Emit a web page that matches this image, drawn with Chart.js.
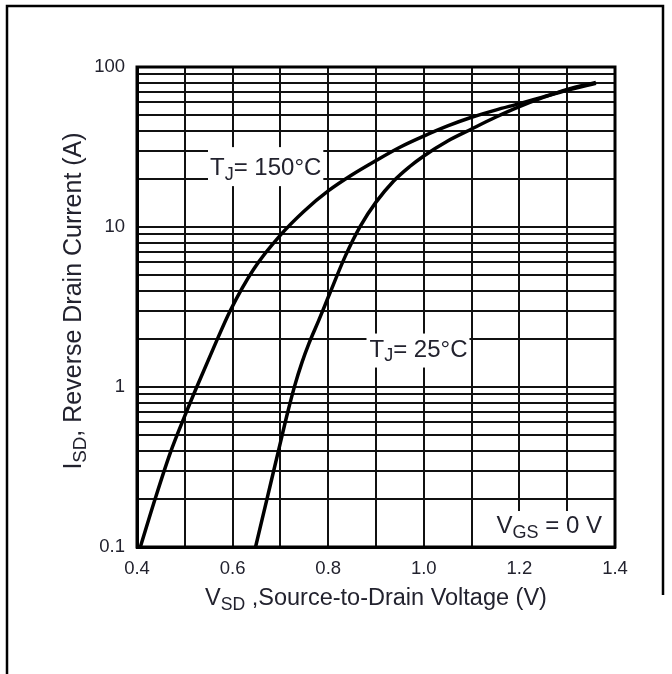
<!DOCTYPE html>
<html>
<head>
<meta charset="utf-8">
<script src="https://cdn.jsdelivr.net/npm/chart.js@4.4.1/dist/chart.umd.min.js"></script>
<style>
  html, body { margin: 0; padding: 0; background: #fff; }
  #wrap { width: 672px; height: 674px; }
</style>
</head>
<body>
<div id="wrap"><canvas id="diode-chart" width="672" height="674"></canvas></div>
<script>
// body diode forward curves
const vsd150 = [0.407, 0.438, 0.470, 0.500, 0.525, 0.560, 0.595, 0.644, 0.700, 0.750, 0.800, 0.850, 0.900, 0.950, 1.000, 1.050, 1.100, 1.150, 1.200, 1.250, 1.300, 1.360];
const isd150 = [0.1, 0.2, 0.39, 0.66, 1.0, 1.75, 3.0, 5.45, 8.9, 12.6, 16.8, 21.2, 26.0, 31.5, 37.0, 42.8, 48.5, 53.8, 59.0, 65.0, 71.5, 79.0];

const vsd25 = [0.648, 0.672, 0.696, 0.715, 0.730, 0.745, 0.760, 0.780, 0.800, 0.836, 0.867, 0.900, 0.937, 0.970, 1.000, 1.050, 1.100, 1.150, 1.200, 1.250, 1.300, 1.360];
const isd25 = [0.1, 0.2, 0.4, 0.69, 1.02, 1.42, 1.88, 2.6, 3.64, 6.6, 10.1, 14.3, 19.4, 23.8, 27.8, 34.5, 41.0, 48.5, 56.5, 64.5, 72.5, 80.0];

// axis ticks
const xTicks = [0.4, 0.5, 0.6, 0.7, 0.8, 0.9, 1.0, 1.1, 1.2, 1.3, 1.4];
const xLabels = ['0.4', '', '0.6', '', '0.8', '', '1.0', '', '1.2', '', '1.4'];
const yDecades = [0.1, 1, 10, 100];
const yLabels = ['0.1', '1', '10', '100'];

const FONT = '"Liberation Sans", Arial, Helvetica, sans-serif';
const INK = '#22222e';

// every 1..9 line of each decade, plus the top one
const yGrid = [];
for (let i = 0; i < yDecades.length - 1; i++) {
    for (let k = 1; k <= 9; k++) {
        yGrid.push(Math.round(k * yDecades[i] * 1000) / 1000);
    }
}
yGrid.push(yDecades[yDecades.length - 1]);

function pairs(xs, ys) {
    return xs.map((x, i) => ({ x: x, y: ys[i] }));
}

// text with subscripts: parts = [[text, isSub], ...], y is the baseline
function drawRich(ctx, parts, x, y, size, align) {
    const subSize = size * 0.75;
    const widths = parts.map(p => {
        ctx.font = (p[1] ? subSize : size) + 'px ' + FONT;
        return ctx.measureText(p[0]).width;
    });
    const total = widths.reduce((a, b) => a + b, 0);
    let cx = x;
    if (align === 'center') cx = x - total / 2;
    if (align === 'right') cx = x - total;
    const left = cx;
    ctx.textBaseline = 'alphabetic';
    ctx.textAlign = 'left';
    parts.forEach((p, i) => {
        ctx.font = (p[1] ? subSize : size) + 'px ' + FONT;
        ctx.fillText(p[0], cx, y + (p[1] ? size * 0.2 : 0));
        cx += widths[i];
    });
    return { left: left, right: left + total };
}

const notes = [
    { parts: [['T', 0], ['J', 1], ['= 150°C', 0]], x: 0.5527, y: 21.1, align: 'left', box: [2, 28, 2, 11] },
    { parts: [['T', 0], ['J', 1], ['= 25°C', 0]], x: 0.8864, y: 1.55, align: 'left', box: [3, 23, 2, 11] },
    { parts: [['V', 0], ['GS', 1], [' = 0 V', 0]], x: 1.3728, y: 0.1223, align: 'right', box: [8, 22, 10, 14] }
];

const textPlugin = {
    id: 'sheetText',
    afterDatasetsDraw(chart) {
        const ctx = chart.ctx;
        const area = chart.chartArea;
        const xs = chart.scales.x;
        const ys = chart.scales.y;
        ctx.save();
        notes.forEach(n => {
            const px = xs.getPixelForValue(n.x);
            const py = ys.getPixelForValue(n.y);
            // measure first, then blank the grid behind it
            ctx.globalAlpha = 0;
            const ext = drawRich(ctx, n.parts, px, py, 24, n.align);
            ctx.globalAlpha = 1;
            ctx.fillStyle = '#fff';
            ctx.fillRect(ext.left - n.box[0], py - n.box[1], ext.right - ext.left + n.box[0] + n.box[2], n.box[1] + n.box[3]);
            ctx.fillStyle = INK;
            drawRich(ctx, n.parts, px, py, 24, n.align);
        });

        // plot frame
        ctx.strokeStyle = '#000';
        ctx.lineWidth = 3;
        ctx.strokeRect(area.left, area.top, area.right - area.left, area.bottom - area.top);

        // axis titles
        ctx.fillStyle = INK;
        drawRich(ctx, [['V', 0], ['SD', 1], [' ,Source-to-Drain Voltage (V)', 0]], (area.left + area.right) / 2, 605, 23.5, 'center');
        ctx.save();
        ctx.translate(81, 301);
        ctx.rotate(-Math.PI / 2);
        drawRich(ctx, [['I', 0], ['SD', 1], [', Reverse Drain Current (A)', 0]], 0, 0, 25, 'center');
        ctx.restore();

        // picture border
        ctx.lineWidth = 2.5;
        ctx.beginPath();
        ctx.moveTo(7, 674);
        ctx.lineTo(7, 6);
        ctx.lineTo(663, 6);
        ctx.lineTo(663, 595);
        ctx.stroke();
        ctx.restore();
    }
};

const config = {
    type: 'line',
    data: {
        datasets: [{
            label: 'TJ = 150°C',
            data: pairs(vsd150, isd150),
            borderColor: '#000',
            borderWidth: 3.5,
            pointRadius: 0,
            cubicInterpolationMode: 'monotone',
            fill: false
        },
        {
            label: 'TJ = 25°C',
            data: pairs(vsd25, isd25),
            borderColor: '#000',
            borderWidth: 3.5,
            pointRadius: 0,
            cubicInterpolationMode: 'monotone',
            fill: false
        }]
    },
    options: {
        responsive: false,
        animation: false,
        events: [],
        layout: { padding: { left: 0, right: 57, top: 67, bottom: 0 } },
        plugins: {
            legend: { display: false },
            tooltip: { enabled: false }
        },
        scales: {
            x: {
                type: 'linear',
                min: 0.4,
                max: 1.4,
                afterBuildTicks: s => { s.ticks = xTicks.map(v => ({ value: v })); },
                afterFit: s => { s.height = 127; },
                ticks: {
                    callback: (v, i) => xLabels[i],
                    autoSkip: false,
                    maxRotation: 0,
                    padding: 11,
                    color: INK,
                    font: { family: FONT, size: 18.5 }
                },
                grid: { color: '#111', lineWidth: 2, drawTicks: false },
                border: { color: '#000', width: 3 }
            },
            y: {
                type: 'logarithmic',
                min: 0.1,
                max: 100,
                afterBuildTicks: s => { s.ticks = yGrid.map(v => ({ value: v })); },
                afterFit: s => { s.width = 137; },
                ticks: {
                    callback: v => {
                        const i = yDecades.indexOf(v);
                        return i >= 0 ? yLabels[i] : '';
                    },
                    autoSkip: false,
                    padding: 12,
                    color: INK,
                    font: { family: FONT, size: 18.5 }
                },
                grid: { color: '#111', lineWidth: 2, drawTicks: false },
                border: { color: '#000', width: 3 }
            }
        }
    },
    plugins: [textPlugin]
};

window.onload = function() {
    const ctx = document.getElementById('diode-chart').getContext('2d');
    window.diodeChart = new Chart(ctx, config);
};
</script>
</body>
</html>
